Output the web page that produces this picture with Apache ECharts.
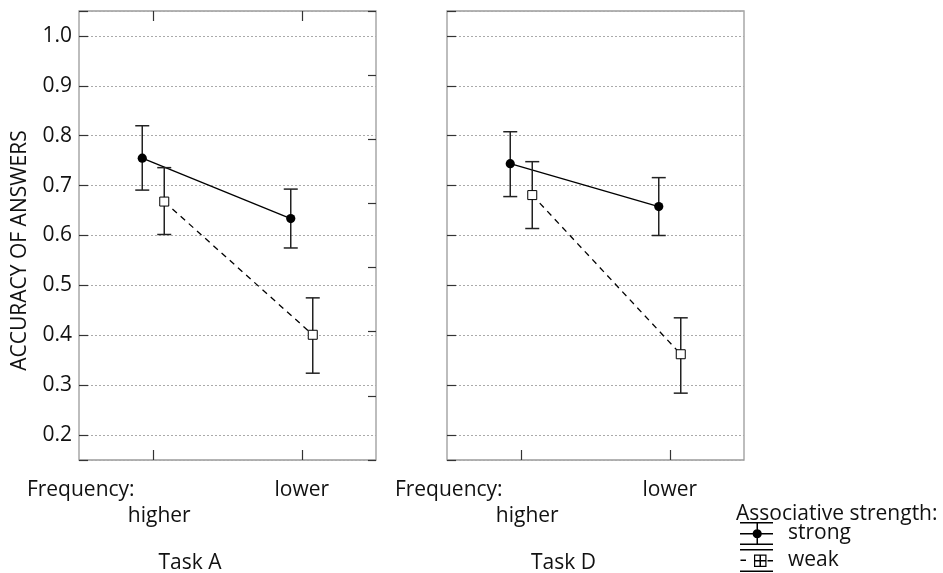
<!DOCTYPE html>
<html>
<head>
<meta charset="utf-8">
<script src="https://cdn.jsdelivr.net/npm/echarts@6/dist/echarts.min.js"></script>
<style>html,body{margin:0;padding:0;background:#fff}#c{width:943px;height:573px}</style>
</head>
<body>
<div id="c"></div>
<script>
// ---- data ----
const categories = ['higher', 'lower'];
const panelNames = ['Task A', 'Task D'];
const seriesNames = ['strong', 'weak'];
const yTitle = 'ACCURACY OF ANSWERS';
const xLead = 'Frequency:';
const legendTitle = 'Associative strength:';

const strongA = [0.755, 0.634];
const strongA_lo = [0.691, 0.575];
const strongA_hi = [0.820, 0.693];
const weakA = [0.668, 0.401];
const weakA_lo = [0.602, 0.324];
const weakA_hi = [0.736, 0.475];

const strongD = [0.744, 0.658];
const strongD_lo = [0.678, 0.600];
const strongD_hi = [0.808, 0.716];
const weakD = [0.681, 0.362];
const weakD_lo = [0.614, 0.284];
const weakD_hi = [0.748, 0.435];

// ---- styles ----
const FONT = 'Open Sans';
const FS = 21;
const TXT = '#111';
const DODGE = 11;

function rows(m, lo, hi) { return m.map((v, i) => [i, v, lo[i], hi[i]]); }

function makeRender(means, dx, kind) {
  return function (params, api) {
    const i = params.dataIndex;
    const xi = api.value(0);
    const c = api.coord([xi, api.value(1)]);
    const x = c[0] + dx;
    const yTop = api.coord([xi, api.value(3)])[1];
    const yBot = api.coord([xi, api.value(2)])[1];
    const children = [];
    if (i < means.length - 1) {
      const n = api.coord([i + 1, means[i + 1]]);
      children.push({
        type: 'line',
        shape: { x1: x, y1: c[1], x2: n[0] + dx, y2: n[1] },
        style: { stroke: '#000', lineWidth: 1.3, lineDash: kind === 'weak' ? [6, 5] : null }
      });
    }
    const cap = 7;
    const es = { stroke: '#222', lineWidth: 1.5 };
    children.push({ type: 'line', shape: { x1: x, y1: yTop, x2: x, y2: yBot }, style: es });
    children.push({ type: 'line', shape: { x1: x - cap, y1: yTop, x2: x + cap, y2: yTop }, style: es });
    children.push({ type: 'line', shape: { x1: x - cap, y1: yBot, x2: x + cap, y2: yBot }, style: es });
    if (kind === 'strong') {
      children.push({ type: 'circle', shape: { cx: x, cy: c[1], r: 4.6 }, style: { fill: '#000' } });
    } else {
      children.push({ type: 'rect', shape: { x: x - 4.5, y: c[1] - 4.5, width: 9, height: 9 }, style: { fill: '#fff', stroke: '#000', lineWidth: 1 } });
    }
    return { type: 'group', children: children };
  };
}

function customSeries(name, kind, idx, m, lo, hi, dx) {
  return {
    type: 'custom', name: name, xAxisIndex: idx, yAxisIndex: idx,
    itemStyle: { color: '#000' },
    encode: { x: 0, y: 1 },
    data: rows(m, lo, hi),
    renderItem: makeRender(m, dx, kind),
    silent: true
  };
}

const grids = [
  { left: 79, top: 11, width: 297, height: 449 },
  { left: 447, top: 11, width: 297, height: 449 }
].map(g => Object.assign({
  show: true, borderColor: '#9a9a9a', borderWidth: 1.3, backgroundColor: 'transparent',
  containLabel: false, outerBoundsMode: 'none'
}, g));

const tickStyle = { color: '#333', width: 1.2 };

function bottomX(gi, padRight, leadPad) {
  return {
    type: 'category', gridIndex: gi, data: categories, position: 'bottom',
    boundaryGap: true,
    axisLine: { show: false },
    axisTick: { show: true, inside: true, alignWithLabel: true, length: 10, lineStyle: tickStyle },
    axisLabel: {
      interval: 0, margin: 17, color: TXT, fontFamily: FONT, fontSize: FS, lineHeight: 26,
      formatter: function (v) {
        return v === categories[0] ? '{f|' + xLead + '}\n{h|' + v + '}' : '{n|' + v + '}';
      },
      rich: {
        f: { fontFamily: FONT, fontSize: FS, color: TXT, lineHeight: 26, padding: [0, leadPad, 0, 0] },
        h: { fontFamily: FONT, fontSize: FS, color: TXT, lineHeight: 26, padding: [0, 0, 0, 12] },
        n: { fontFamily: FONT, fontSize: FS, color: TXT, lineHeight: 26 }
      }
    },
    splitLine: { show: false },
    name: panelNames[gi], nameLocation: 'middle', nameGap: 93,
    nameTextStyle: { fontFamily: FONT, fontSize: FS, color: TXT, padding: [0, padRight, 0, 0] }
  };
}

function leftY(gi, showLabels) {
  const ax = {
    type: 'value', gridIndex: gi, min: 0.15, max: 1.05, splitNumber: 9,
    axisLine: { show: false },
    axisTick: { show: true, inside: true, length: 9, lineStyle: tickStyle },
    splitLine: { show: true, lineStyle: { color: '#aaa', width: 1, type: [2, 2] } },
    axisLabel: {
      show: showLabels, margin: 7, color: TXT, fontFamily: FONT, fontSize: FS,
      formatter: function (v) {
        return Math.abs(v * 10 - Math.round(v * 10)) < 1e-6 ? v.toFixed(1) : '';
      }
    }
  };
  if (showLabels) {
    ax.name = yTitle;
    ax.nameLocation = 'middle';
    ax.nameRotate = 90;
    ax.nameGap = 48;
    ax.nameTextStyle = { fontFamily: FONT, fontSize: FS, color: TXT, padding: [0, 30, 0, 0] };
  }
  return ax;
}

const strongIcon = 'path://M0 0H33V1.5H0Z M0 11H33V12.5H0Z M0 21.5H33V23H0Z M16.5 0H18V23H16.5Z ' +
  'M12.6 11.75A4.6 4.6 0 1 1 21.8 11.75A4.6 4.6 0 1 1 12.6 11.75Z';
const weakIcon = 'path://M0 0H33V1.5H0Z M0 21.5H33V23H0Z M0.5 10.5H6V12H0.5Z M27.5 11H33V12.5H27.5Z ' +
  'M14 5.5H26.5V18H14Z M15.2 6.7V16.8H25.3V6.7Z M15.2 11H25.3V12.5H15.2Z M19.5 6.7H21V16.8H19.5Z';

const option = {
  backgroundColor: '#fff',
  animation: false,
  title: [{
    text: legendTitle, left: 736, top: 504, padding: 0,
    textStyle: { fontFamily: FONT, fontSize: FS, fontWeight: 'normal', color: TXT }
  }],
  legend: {
    orient: 'vertical', left: 740, top: 522, itemWidth: 33, itemHeight: 23, itemGap: 4,
    padding: 0,
    selectedMode: false,
    itemStyle: { borderWidth: 0 },
    textStyle: { fontFamily: FONT, fontSize: FS, color: TXT, lineHeight: 23, padding: [0, 0, 0, 10] },
    data: [{ name: seriesNames[0], icon: strongIcon }, { name: seriesNames[1], icon: weakIcon }]
  },
  grid: grids,
  xAxis: [
    bottomX(0, 75, 145),
    bottomX(1, 64, 145),
    {
      type: 'category', gridIndex: 0, data: categories, position: 'top', boundaryGap: true,
      axisLine: { show: false }, axisLabel: { show: false }, splitLine: { show: false },
      axisTick: { show: true, inside: true, alignWithLabel: true, length: 10, lineStyle: tickStyle }
    }
  ],
  yAxis: [
    leftY(0, true),
    leftY(1, false),
    {
      type: 'value', gridIndex: 0, position: 'right', min: 0, max: 7, interval: 1,
      axisLine: { show: false }, axisLabel: { show: false }, splitLine: { show: false },
      axisTick: { show: true, inside: true, length: 8, lineStyle: tickStyle }
    }
  ],
  series: [
    customSeries(seriesNames[0], 'strong', 0, strongA, strongA_lo, strongA_hi, -DODGE),
    customSeries(seriesNames[1], 'weak', 0, weakA, weakA_lo, weakA_hi, DODGE),
    customSeries(seriesNames[0], 'strong', 1, strongD, strongD_lo, strongD_hi, -DODGE),
    customSeries(seriesNames[1], 'weak', 1, weakD, weakD_lo, weakD_hi, DODGE)
  ]
};

const chart = echarts.init(document.getElementById('c'), null, { renderer: 'canvas' });
chart.setOption(option);
</script>
</body>
</html>
